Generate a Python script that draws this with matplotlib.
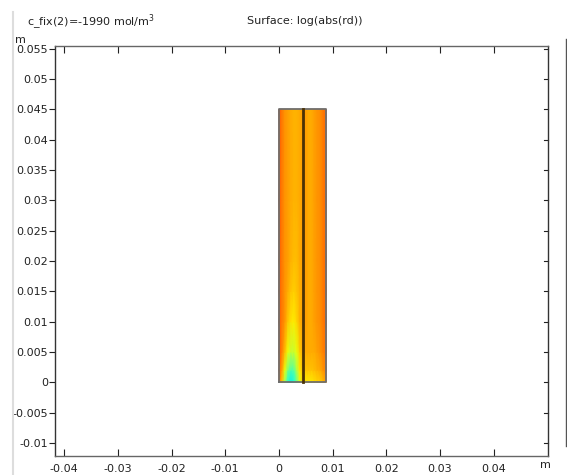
import numpy as np
import matplotlib
matplotlib.use('Agg')
import matplotlib.pyplot as plt
from matplotlib.lines import Line2D

# geometry of the two domains (m)
x_mid = 0.0044
x_right = 0.0088
y_top = 0.045

# sample rows (m) where the surface values were read
y_rows = [0.0, 0.002, 0.005, 0.010, 0.015, 0.020, 0.030, 0.045]

# log(abs(rd)), normalised to the colour range (0..1)
left_vals = [
    [0.79, 0.70, 0.55, 0.40, 0.36, 0.38, 0.48, 0.62, 0.68],
    [0.80, 0.74, 0.63, 0.50, 0.44, 0.45, 0.56, 0.66, 0.71],
    [0.81, 0.77, 0.71, 0.64, 0.59, 0.59, 0.63, 0.69, 0.73],
    [0.81, 0.78, 0.75, 0.70, 0.67, 0.66, 0.68, 0.72, 0.74],
    [0.81, 0.78, 0.75, 0.73, 0.70, 0.69, 0.70, 0.72, 0.74],
    [0.81, 0.78, 0.75, 0.74, 0.72, 0.71, 0.71, 0.73, 0.74],
    [0.81, 0.78, 0.75, 0.74, 0.73, 0.72, 0.72, 0.73, 0.74],
    [0.81, 0.78, 0.75, 0.74, 0.73, 0.72, 0.72, 0.73, 0.74],
]
right_vals = [
    [0.66, 0.66, 0.66, 0.66, 0.67, 0.68, 0.69, 0.71, 0.75],
    [0.70, 0.70, 0.70, 0.70, 0.71, 0.72, 0.73, 0.75, 0.77],
    [0.73, 0.73, 0.73, 0.73, 0.73, 0.74, 0.75, 0.77, 0.79],
    [0.74, 0.74, 0.73, 0.73, 0.74, 0.75, 0.76, 0.78, 0.80],
    [0.74, 0.74, 0.73, 0.73, 0.74, 0.75, 0.76, 0.78, 0.80],
    [0.74, 0.74, 0.73, 0.73, 0.74, 0.75, 0.76, 0.78, 0.80],
    [0.74, 0.74, 0.73, 0.73, 0.74, 0.75, 0.76, 0.78, 0.80],
    [0.74, 0.74, 0.73, 0.73, 0.74, 0.75, 0.76, 0.78, 0.80],
]

x_ticks = [-0.04, -0.03, -0.02, -0.01, 0, 0.01, 0.02, 0.03, 0.04]
x_labels = ['-0.04', '-0.03', '-0.02', '-0.01', '0', '0.01', '0.02', '0.03', '0.04']
y_ticks = [-0.01, -0.005, 0, 0.005, 0.01, 0.015, 0.02, 0.025, 0.03, 0.035,
           0.04, 0.045, 0.05, 0.055]
y_labels = ['-0.01', '-0.005', '0', '0.005', '0.01', '0.015', '0.02', '0.025',
            '0.03', '0.035', '0.04', '0.045', '0.05', '0.055']

fig = plt.figure(figsize=(5.67, 4.75), dpi=100)
ax = fig.add_axes([55 / 567, 19.3 / 475, 493 / 567, 410 / 475])

for x0, x1, vals in [(0.0, x_mid, left_vals), (x_mid, x_right, right_vals)]:
    v = np.array(vals)
    xs = np.linspace(x0, x1, v.shape[1])
    X, Y = np.meshgrid(xs, y_rows)
    ax.pcolormesh(X, Y, v, cmap='jet', vmin=0, vmax=1, shading='gouraud')

# domain outlines
ax.plot([0, x_right, x_right, 0, 0], [0, 0, y_top, y_top, 0],
        color='#6e6e6e', lw=1.3)
ax.plot([x_mid, x_mid], [0, y_top], color='#4a3206', lw=2)

ax.set_xlim(-0.0417, 0.0501)
ax.set_ylim(-0.0121, 0.0555)

ax.set_xticks(x_ticks)
ax.set_xticklabels(x_labels)
ax.set_yticks(y_ticks)
ax.set_yticklabels(y_labels)
ax.tick_params(axis='x', direction='in', length=5, labelsize=8, pad=6,
               top=True, color='#222222', labelcolor='#222222')
ax.tick_params(axis='y', direction='out', length=4, labelsize=8, pad=1,
               color='#222222', labelcolor='#222222')
# inward ticks on the right
for yt in y_ticks:
    ax.plot([0.0501 - 0.0007, 0.0501], [yt, yt], color='#222222', lw=0.8,
            clip_on=False)

for s in ax.spines.values():
    s.set_color('#333333')
    s.set_linewidth(1.0)
ax.spines['bottom'].set_color('#666666')
ax.spines['top'].set_color('#666666')

fig.text(27 / 567, 1 - 26 / 475, 'c_fix(2)=-1990 mol/m$^3$', fontsize=8,
         color='#222222')
fig.text(305 / 567, 1 - 24 / 475, 'Surface: log(abs(rd))', fontsize=8,
         ha='center', color='#222222')
fig.text(20 / 567, 1 - 40 / 475, 'm', fontsize=8, ha='center', va='center',
         color='#222222')
fig.text(545 / 567, 1 - 465 / 475, 'm', fontsize=8, ha='center', va='center',
         color='#222222')

# frame lines of the graphics window
fig.add_artist(Line2D([13 / 567, 13 / 567], [0, 1 - 12 / 475],
                      transform=fig.transFigure, color='#dddddd', lw=1.5))
fig.add_artist(Line2D([565.5 / 567, 565.5 / 567], [1 - 446 / 475, 1 - 39 / 475],
                      transform=fig.transFigure, color='#555555', lw=1))

fig.savefig('out.png', dpi=100)
